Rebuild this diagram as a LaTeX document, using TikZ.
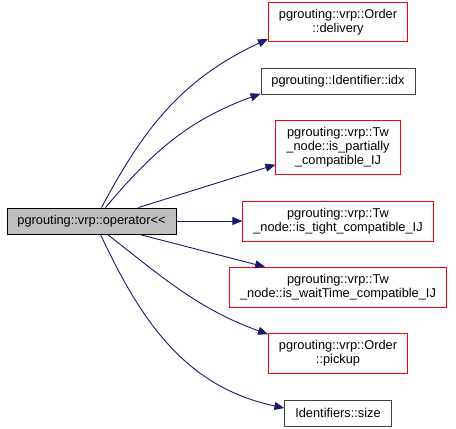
\documentclass[tikz,border=0pt]{standalone}
\usepackage{fontspec}
\setmainfont{Liberation Sans}
\usetikzlibrary{positioning}
\usetikzlibrary{arrows.meta}
\definecolor{edgeblue}{HTML}{191970}
\definecolor{boxred}{HTML}{FF0000}
\definecolor{boxgray}{HTML}{BFBFBF}
\definecolor{boxline}{HTML}{404040}
\tikzset{%
  callarrow/.style = {-{Triangle[length=10pt,width=8pt]},draw=edgeblue,line width=0.9pt},
  fn/.style = {rectangle,draw,align=center,font=\fontsize{12.8}{14}\selectfont,
        inner xsep=10.5pt,inner ysep=7pt,minimum height=26pt,line width=0.9pt},
  redfn/.style = {fn,draw=boxred},
  docfn/.style = {fn,draw=boxline},
  mainfn/.style = {fn,draw=black,fill=boxgray}
}

\begin{document}
\begin{tikzpicture}[node distance=25.5pt]
   \useasboundingbox (0,0) rectangle (456pt,-429pt);
   \node[redfn] (tight) at (338pt,-221pt) {pgrouting::vrp::Tw\\\_node::is\_tight\_compatible\_IJ};
   \node[redfn] (partially) [above=of tight] {pgrouting::vrp::Tw\\\_node::is\_partially\\\_compatible\_IJ};
   \node[docfn] (idx) [above=of partially] {pgrouting::Identifier::idx};
   \node[redfn] (delivery) [above=of idx] {pgrouting::vrp::Order\\::delivery};
   \node[redfn] (waittime) [below=of tight] {pgrouting::vrp::Tw\\\_node::is\_waitTime\_compatible\_IJ};
   \node[redfn] (pickup) [below=of waittime] {pgrouting::vrp::Order\\::pickup};
   \node[docfn] (size) [below=of pickup] {Identifiers::size};
   \node[mainfn] (main) at (91.5pt,-221pt) {pgrouting::vrp::operator<{}<};

   \draw[callarrow] ([xshift=10pt]main.north) to[out=62,in=205] ([yshift=-17pt]delivery.west);
   \draw[callarrow] ([xshift=14pt]main.north) to[out=50,in=200] ([yshift=1pt]idx.south west);
   \draw[callarrow] ([xshift=47pt]main.north) -- ([yshift=-17pt]partially.west);
   \draw[callarrow] (main.east) -- (tight.west);
   \draw[callarrow] ([xshift=48pt]main.south) -- ([xshift=36pt]waittime.north west);
   \draw[callarrow] ([xshift=16pt]main.south) to[out=-38,in=160] ([yshift=-1pt]pickup.north west);
   \draw[callarrow] ([xshift=9pt]main.south) to[out=-65,in=168] ([yshift=5pt]size.west);
\end{tikzpicture}
\end{document}
